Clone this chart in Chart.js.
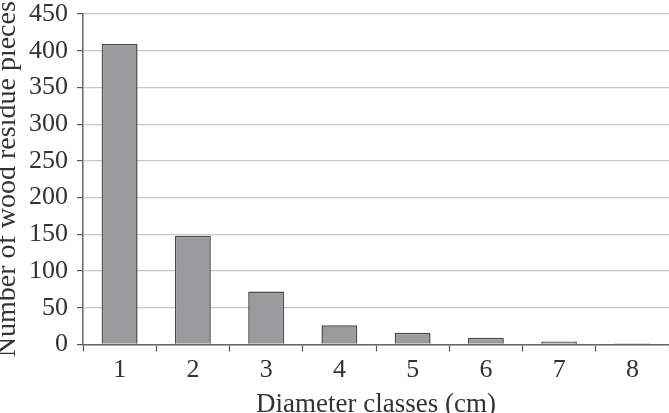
<!DOCTYPE html>
<html>
<head>
<meta charset="utf-8">
<script src="https://cdn.jsdelivr.net/npm/chart.js@4/dist/chart.umd.min.js"></script>
<style>
html,body{margin:0;padding:0;background:#fff;}
#wrap{width:669px;height:413px;position:relative;}
</style>
</head>
<body>
<div id="wrap"><canvas id="c" width="669" height="413"></canvas></div>
<script>
const categories = ["1","2","3","4","5","6","7","8"];
const pieces = [409, 148, 72, 26, 16, 9, 4, 1.5];
const yTicks = [0,50,100,150,200,250,300,350,400,450];
const xTitle = "Diameter classes (cm)";
const yTitle = "Number of wood residue pieces";

const serif = "'Liberation Serif','Times New Roman',serif";

new Chart(document.getElementById('c'), {
  type: 'bar',
  data: {
    labels: categories,
    datasets: [{
      data: pieces,
      backgroundColor: '#9a9b9d',
      borderColor: '#4a4a4a',
      borderWidth: 1.5,
      categoryPercentage: 1,
      barPercentage: 0.49
    }]
  },
  options: {
    responsive: false,
    animation: false,
    layout: { autoPadding: false, padding: { left: -9, right: 0, top: 14, bottom: -8 } },
    plugins: { legend: { display: false }, tooltip: { enabled: false } },
    scales: {
      x: {
        offset: true,
        grid: { offset: true, drawOnChartArea: false, drawTicks: true, tickLength: 7, tickColor: '#555', tickWidth: 1.2 },
        border: { color: '#666', width: 1.5 },
        ticks: { color: '#333', font: { family: serif, size: 26 }, padding: 3 },
        title: { display: true, text: xTitle, color: '#333', font: { family: serif, size: 27 }, padding: { top: 0, bottom: 0 } }
      },
      y: {
        min: 0, max: 450,
        afterBuildTicks: (axis) => { axis.ticks = yTicks.map(v => ({ value: v })); },
        afterFit: (axis) => { axis.width = 92; axis.paddingTop = 0; axis.paddingBottom = 0; },
        grid: { color: '#c8c8c8', lineWidth: 1.2, tickLength: 6, tickColor: '#555' },
        border: { color: '#666', width: 1.5 },
        ticks: { color: '#333', font: { family: serif, size: 26 }, padding: 9 },
        title: { display: true, text: yTitle, color: '#333', font: { family: serif, size: 28 }, padding: { top: 0, bottom: 0 } }
      }
    }
  }
});
</script>
</body>
</html>
